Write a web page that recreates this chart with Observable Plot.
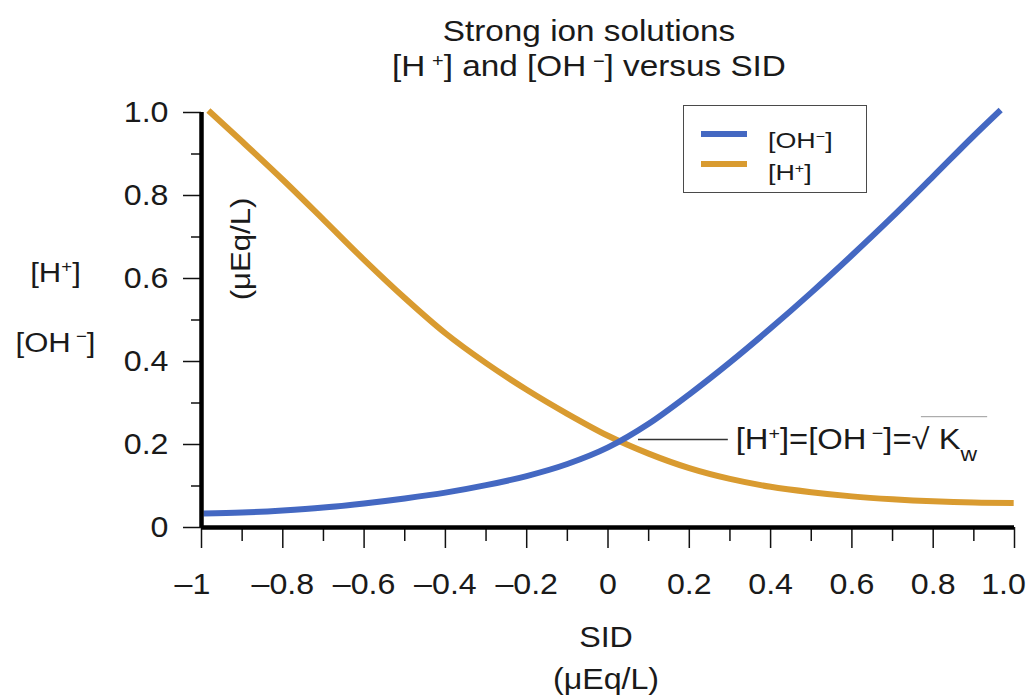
<!DOCTYPE html>
<html>
<head>
<meta charset="utf-8">
<script src="https://cdn.jsdelivr.net/npm/d3@7"></script>
<script src="https://cdn.jsdelivr.net/npm/@observablehq/plot@0.6"></script>
<style>
  body { margin: 0; background: #fff; }
  #wrap { position: relative; width: 1033px; height: 695px; font-family: "Liberation Sans", Arial, sans-serif; color: #1a1a1a; }
  #legend { position: absolute; left: 683px; top: 105px; width: 184px; height: 88px; box-sizing: border-box;
            border: 1.6px solid #4a4a4a; background: #fff; }
  .sw { position: absolute; left: 17px; width: 46px; height: 6px; }
  .lt { position: absolute; left: 84px; font-size: 22px; line-height: 22px; transform: scaleX(1.22); transform-origin: left center; white-space: nowrap; }
  .lt sup { font-size: 60%; vertical-align: 0.5em; line-height: 0; }
</style>
</head>
<body>
<div id="wrap"></div>
<script>
// ---- axis ticks ----
const xTicks = [-1, -0.8, -0.6, -0.4, -0.2, 0, 0.2, 0.4, 0.6, 0.8, 1];
const xTickLabels = ["–1", "–0.8", "–0.6", "–0.4", "–0.2", "0", "0.2", "0.4", "0.6", "0.8", "1.0"];
const xMinorTicks = [-0.9, -0.7, -0.5, -0.3, -0.1, 0.1, 0.3, 0.5, 0.7, 0.9];
const yTicks = [0, 0.2, 0.4, 0.6, 0.8, 1];
const yTickLabels = ["0", "0.2", "0.4", "0.6", "0.8", "1.0"];
const yMinorTicks = [0.1, 0.3, 0.5, 0.7, 0.9];

// ---- series: [OH-] ----
const ohSID    = [-0.995, -0.9, -0.8, -0.7, -0.6, -0.5, -0.4, -0.3, -0.2, -0.1, 0, 0.1, 0.2, 0.3, 0.4, 0.5, 0.6, 0.7, 0.8, 0.9, 0.966];
const ohValues = [0.034, 0.036, 0.041, 0.048, 0.058, 0.070, 0.084, 0.102, 0.124, 0.153, 0.193, 0.250, 0.321, 0.398, 0.480, 0.566, 0.656, 0.749, 0.846, 0.944, 1.006];

// ---- series: [H+] ----
const hSID    = [-0.983, -0.9, -0.8, -0.7, -0.6, -0.5, -0.4, -0.3, -0.2, -0.1, 0, 0.1, 0.2, 0.3, 0.4, 0.5, 0.6, 0.7, 0.8, 0.9, 0.998];
const hValues = [1.005, 0.930, 0.838, 0.742, 0.645, 0.553, 0.468, 0.396, 0.332, 0.274, 0.221, 0.178, 0.143, 0.117, 0.098, 0.085, 0.075, 0.068, 0.063, 0.060, 0.059];

const seriesNames = ["[OH^{−}]", "[H^{+}]"];
const seriesColors = ["#4468c2", "#d99b30"];

// ---- texts ----
const titleLines = ["Strong ion solutions", "[H\u2009^{+}] and [OH\u2009^{−}] versus SID"];
const yLabelLines = ["[H^{+}]", "[OH^{ −}]"];
const yUnit = "(μEq/L)";
const xLabelLines = ["SID", "(μEq/L)"];
const annotationText = "[H^{+}]=[OH^{ −}]=√ K_{w}";
const crossingValue = 0.212;

const ohData = ohSID.map((s, i) => ({sid: s, value: ohValues[i]}));
const hData = hSID.map((s, i) => ({sid: s, value: hValues[i]}));

const font = '"Liberation Sans", Arial, sans-serif';
const ink = "#1a1a1a";
const xFirst = xTicks[0], xLast = xTicks[xTicks.length - 1];
const xLabel = d => xTickLabels[xTicks.indexOf(d)];
const xInnerLabel = d => (d === xFirst || d === xLast) ? "" : xLabel(d);

const plot = Plot.plot({
  width: 1033,
  height: 695,
  marginLeft: 201,
  marginRight: 19,
  marginTop: 112,
  marginBottom: 168,
  style: {fontFamily: font, fontSize: "28px", color: ink, background: "#fff", overflow: "visible"},
  x: {domain: [-1, 1], label: null},
  y: {domain: [0, 1], label: null},
  marks: [
    Plot.axisX(xTicks, {tickSize: 21, tickPadding: 25, strokeWidth: 1.5, stroke: "#111", tickFormat: xInnerLabel, label: null, fontSize: 29}),
    Plot.axisX([xFirst], {tickSize: 0, tickPadding: 46, strokeWidth: 0, tickFormat: xLabel, label: null, fontSize: 29, dx: -9}),
    Plot.axisX([xLast], {tickSize: 0, tickPadding: 46, strokeWidth: 0, tickFormat: xLabel, label: null, fontSize: 29, dx: -11}),
    Plot.axisX(xMinorTicks, {tickSize: 14, strokeWidth: 1.5, stroke: "#111", tickFormat: () => "", label: null}),
    Plot.axisY(yTicks, {tickSize: 18, tickPadding: 15, strokeWidth: 1.5, stroke: "#111",
      tickFormat: d => yTickLabels[yTicks.indexOf(d)], label: null, fontSize: 29}),
    Plot.axisY(yMinorTicks, {tickSize: 10, strokeWidth: 1.5, stroke: "#111", tickFormat: () => "", label: null}),

    Plot.line(hData, {x: "sid", y: "value", stroke: seriesColors[1], strokeWidth: 6, curve: "monotone-x", strokeLinecap: "butt"}),
    Plot.line(ohData, {x: "sid", y: "value", stroke: seriesColors[0], strokeWidth: 6, curve: "monotone-x", strokeLinecap: "butt"}),

    Plot.ruleX([-1], {stroke: "#000", strokeWidth: 4.5}),
    Plot.ruleY([0], {stroke: "#000", strokeWidth: 4.5}),

    // annotation
    Plot.ruleY([crossingValue], {x1: 0.075, x2: 0.296, stroke: "#333", strokeWidth: 1.3}),
    Plot.text([annotationText], {x: 0.314, y: crossingValue, textAnchor: "start", lineAnchor: "middle", fontSize: 29, fill: ink}),
    Plot.ruleY([0.267], {x1: 0.771, x2: 0.934, stroke: "#999", strokeWidth: 1}),

    // titles
    Plot.text([titleLines[0]], {frameAnchor: "top", textAnchor: "middle", lineAnchor: "middle", dx: -19, dy: -81, fontSize: 30, fill: ink}),
    Plot.text([titleLines[1]], {frameAnchor: "top", textAnchor: "middle", lineAnchor: "middle", dx: -19, dy: -46, fontSize: 30, fill: ink}),

    // y labels
    Plot.text([yLabelLines[0]], {frameAnchor: "left", textAnchor: "middle", lineAnchor: "middle", dx: -146, dy: -47, fontSize: 28, fill: ink}),
    Plot.text([yLabelLines[1]], {frameAnchor: "left", textAnchor: "middle", lineAnchor: "middle", dx: -146, dy: 23, fontSize: 28, fill: ink}),
    Plot.text([yUnit], {frameAnchor: "left", textAnchor: "middle", lineAnchor: "middle", dx: 40, dy: -71, rotate: -90, fontSize: 28, fill: ink}),

    // x labels
    Plot.text([xLabelLines[0]], {frameAnchor: "bottom", textAnchor: "middle", lineAnchor: "middle", dx: -2, dy: 110, fontSize: 29, fill: ink}),
    Plot.text([xLabelLines[1]], {frameAnchor: "bottom", textAnchor: "middle", lineAnchor: "middle", dx: -2, dy: 152, fontSize: 29, fill: ink})
  ]
});

// convert ^{..} and _{..} markup into tspans
function richify(root) {
  d3.select(root).selectAll("text").each(function() {
    const node = this;
    const targets = node.querySelectorAll("tspan").length ? Array.from(node.querySelectorAll("tspan")) : [node];
    targets.forEach(el => {
      const t = el.textContent;
      if (!/[\^_]\{/.test(t)) return;
      el.textContent = "";
      const re = /([\^_])\{([^}]*)\}|([^\^_]+)/g;
      let m;
      while ((m = re.exec(t))) {
        const ts = d3.select(el).append("tspan");
        if (m[1] === "^") {
          ts.text(m[2]).attr("font-size", "60%").attr("baseline-shift", "super");
        } else if (m[1] === "_") {
          ts.text(m[2]).attr("font-size", "70%").attr("baseline-shift", "sub");
        } else {
          ts.text(m[3]);
        }
      }
    });
  });
}
richify(plot);

const wrap = document.getElementById("wrap");
wrap.appendChild(plot);

// widen glyphs along the reading direction (reference font is broader than Arial)
function widen(svg, factor, annotationFactor) {
  const ns = "http://www.w3.org/2000/svg";
  Array.from(svg.querySelectorAll("text")).forEach(el => {
    if (!el.textContent.trim()) return;
    const parent = el.parentNode;
    const m = parent.getScreenCTM();
    const r = el.getBoundingClientRect();
    const anchor = getComputedStyle(el).textAnchor;
    const rotated = r.height > r.width * 1.3 && el.textContent.length > 3;
    const f = el.textContent.includes("√") ? annotationFactor : factor;
    let ax, ay;
    if (rotated) {
      ax = r.left + r.width / 2; ay = r.top + r.height / 2;
    } else {
      ay = r.top + r.height / 2;
      ax = anchor === "start" ? r.left : anchor === "end" ? r.right : r.left + r.width / 2;
    }
    const px = ax - m.e, py = ay - m.f;
    const tr = rotated ? `scale(1,${f})` : `scale(${f},1)`;
    const g = document.createElementNS(ns, "g");
    g.setAttribute("transform", `translate(${px},${py}) ${tr} translate(${-px},${-py})`);
    parent.insertBefore(g, el);
    g.appendChild(el);
  });
}
widen(plot, 1.11, 1.13);

// legend
const legend = document.createElement("div");
legend.id = "legend";
const fmt = s => s.replace(/\^\{([^}]*)\}/g, "<sup>$1</sup>");
seriesNames.forEach((name, i) => {
  const sw = document.createElement("div");
  sw.className = "sw";
  sw.style.top = (i === 0 ? 25 : 55) + "px";
  sw.style.background = seriesColors[i];
  legend.appendChild(sw);
  const lt = document.createElement("div");
  lt.className = "lt";
  lt.style.top = (i === 0 ? 24 : 56) + "px";
  lt.innerHTML = fmt(name);
  legend.appendChild(lt);
});
wrap.appendChild(legend);
</script>
</body>
</html>
